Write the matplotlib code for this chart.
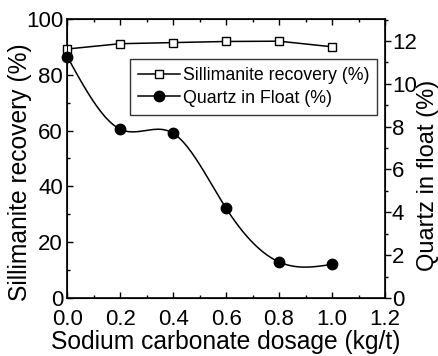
import numpy as np
import matplotlib.pyplot as plt
from matplotlib.ticker import MultipleLocator

plt.rcParams['font.family'] = ['Liberation Sans', 'DejaVu Sans']

dosage = [0.0, 0.2, 0.4, 0.6, 0.8, 1.0]
sill_recovery = [89.2, 91.1, 91.5, 91.9, 92.0, 90.0]
quartz_float = [11.27, 7.88, 7.69, 4.19, 1.68, 1.57]


def natural_spline(x, y, n=200):
    # natural cubic spline through the points
    x = np.asarray(x, float)
    y = np.asarray(y, float)
    k = len(x)
    h = np.diff(x)
    A = np.zeros((k, k))
    b = np.zeros(k)
    A[0, 0] = 1
    A[-1, -1] = 1
    for i in range(1, k - 1):
        A[i, i - 1] = h[i - 1]
        A[i, i] = 2 * (h[i - 1] + h[i])
        A[i, i + 1] = h[i]
        b[i] = 3 * ((y[i + 1] - y[i]) / h[i] - (y[i] - y[i - 1]) / h[i - 1])
    c = np.linalg.solve(A, b)
    xs = np.linspace(x[0], x[-1], n)
    ys = np.empty_like(xs)
    for j, xv in enumerate(xs):
        i = min(np.searchsorted(x, xv, side='right') - 1, k - 2)
        d = (c[i + 1] - c[i]) / (3 * h[i])
        bb = (y[i + 1] - y[i]) / h[i] - h[i] * (2 * c[i] + c[i + 1]) / 3
        t = xv - x[i]
        ys[j] = y[i] + bb * t + c[i] * t ** 2 + d * t ** 3
    return xs, ys


fig, ax = plt.subplots(figsize=(4.39, 3.56), dpi=100)
fig.subplots_adjust(left=0.153, right=0.877, top=0.947, bottom=0.163)
ax2 = ax.twinx()

l1, = ax.plot(dosage, sill_recovery, color='black', lw=1.1, marker='s', ms=5.4,
              mfc='white', mec='black', mew=1.0, clip_on=False, zorder=3,
              label='Sillimanite recovery (%)')

xs, ys = natural_spline(dosage, quartz_float)
ax2.plot(xs, ys, color='black', lw=1.1, zorder=2)
ax2.plot(dosage, quartz_float, ls='none', marker='o', ms=7.5, color='black',
         clip_on=False, zorder=3)
l2, = ax2.plot([], [], color='black', lw=1.1, marker='o', ms=7.5,
               label='Quartz in Float (%)')

ax.set_xlim(0, 1.2)
ax.set_ylim(0, 100)
ax2.set_ylim(0, 13.03)

ax.xaxis.set_major_locator(MultipleLocator(0.2))
ax.xaxis.set_minor_locator(MultipleLocator(0.1))
ax.yaxis.set_major_locator(MultipleLocator(20))
ax.yaxis.set_minor_locator(MultipleLocator(10))
ax2.yaxis.set_major_locator(MultipleLocator(2))
ax2.yaxis.set_minor_locator(MultipleLocator(1))
ax.xaxis.set_major_formatter(plt.FormatStrFormatter('%.1f'))

ax.tick_params(axis='x', which='both', direction='in', top=True, labelsize=16, pad=8)
ax.tick_params(axis='y', which='both', direction='in', labelsize=16, pad=3)
ax.tick_params(which='major', length=4, width=1)
ax.tick_params(which='minor', length=2.5, width=1)
ax2.tick_params(axis='y', which='both', direction='out', labelsize=16, pad=1)
ax2.tick_params(which='major', length=4, width=1)
ax2.tick_params(which='minor', length=2.5, width=1)

for sp in ax.spines.values():
    sp.set_linewidth(1.2)

ax.set_xlabel('Sodium carbonate dosage (kg/t)', fontsize=17.7, labelpad=0)
ax.set_ylabel('Sillimanite recovery (%)', fontsize=17.7)
ax.yaxis.set_label_coords(-0.11, 0.45)
ax2.set_ylabel('Quartz in float (%)', fontsize=17)
ax2.yaxis.set_label_coords(1.1, 0.44)

leg = ax.legend(handles=[l1, l2], loc='upper right', bbox_to_anchor=(0.975, 0.855),
                fontsize=12.8, frameon=True, fancybox=False, edgecolor='black',
                handlelength=2.35, borderpad=0.45, labelspacing=0.3, handletextpad=0.17,
                borderaxespad=0)
leg.get_frame().set_linewidth(1.0)
leg.set_zorder(5)

fig.savefig('out.png', dpi=100)
